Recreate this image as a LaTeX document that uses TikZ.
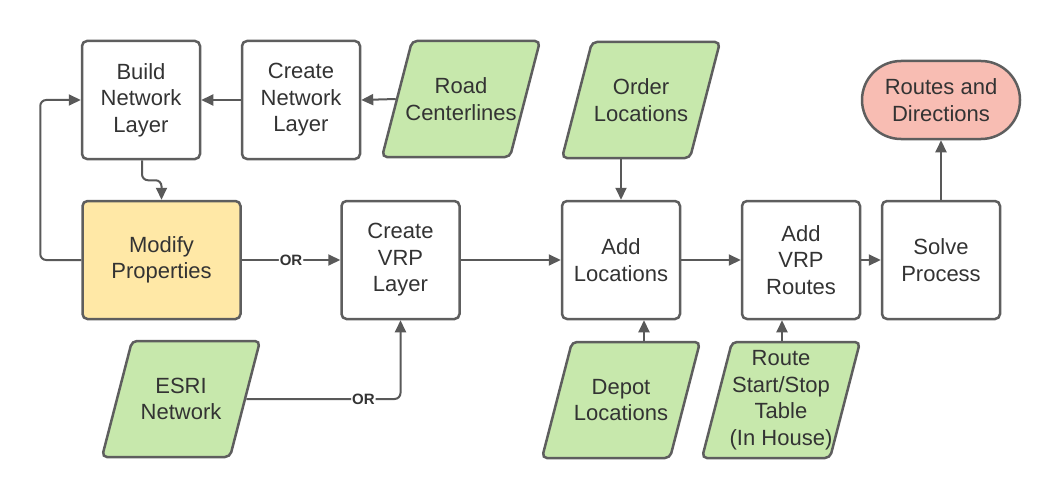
\documentclass[tikz,border=0pt]{standalone}
\usepackage{fontspec}
\setmainfont{Liberation Sans}
\usetikzlibrary{arrows.meta,calc}
\definecolor{edgec}{HTML}{5E5E5E}
\definecolor{linec}{HTML}{595959}
\definecolor{txtc}{HTML}{333333}
\definecolor{greenf}{HTML}{C7E8AC}
\definecolor{yellowf}{HTML}{FFE8A6}
\definecolor{redf}{HTML}{F8BDB3}
\tikzset{
  boxn/.style={draw=edgec, line width=2.5pt, rounded corners=5pt, fill=white,
    minimum width=118pt, minimum height=118pt, align=center, text=txtc,
    font=\fontsize{22}{26.5}\selectfont, inner sep=0pt},
  paral/.style={draw=edgec, line width=2.5pt, rounded corners=5pt, fill=greenf},
  datan/.style={minimum width=128pt, minimum height=116pt, outer sep=1.25pt,
    align=center, text=txtc, font=\fontsize{22}{26.5}\selectfont, inner sep=0pt},
  termn/.style={draw=edgec, line width=2.5pt, rounded corners=39pt, fill=redf,
    minimum width=158pt, minimum height=78pt, align=center, text=txtc,
    font=\fontsize{22}{26.5}\selectfont, inner sep=0pt},
  conn/.style={draw=linec, line width=2pt, rounded corners=6pt,
    -{Triangle[length=12pt,width=11pt]}},
  orlab/.style={fill=white, text=txtc, font=\fontsize{15}{17}\selectfont\bfseries, inner sep=1pt}
}
\newcommand{\datanode}[3]{%
  \draw[paral] ($(#2)+(-49,-58)$) -- ($(#2)+(79,-58)$) -- ($(#2)+(49,58)$) -- ($(#2)+(-79,58)$) -- cycle;
  \node[datan] (#1) at (#2) {#3};}
\begin{document}
\begin{tikzpicture}[x=1pt,y=-1pt]
\useasboundingbox (0,0) rectangle (1062,500);
\node[boxn] (build) at (141,100) {Build\\Network\\Layer};
\node[boxn] (cnet) at (301,100) {Create\\Network\\Layer};
\datanode{road}{461,99}{Road\\Centerlines}
\datanode{order}{641,100}{Order\\Locations}
\node[termn] (routes) at (941,100) {Routes and\\Directions};
\node[boxn, fill=yellowf, minimum width=158pt] (modify) at (161.5,260) {Modify\\Properties};
\node[boxn] (vrp) at (400.5,260) {Create\\VRP\\Layer};
\node[boxn] (addloc) at (621,260) {Add\\Locations};
\node[boxn] (addvrp) at (801,260) {Add\\VRP\\Routes};
\node[boxn] (solve) at (941,260) {Solve\\Process};
\datanode{esri}{181,399}{ESRI\\Network}
\datanode{depot}{621,400}{Depot\\Locations}
\datanode{rst}{781,400}{Route\\Start/Stop\\Table\\(In House)}

\draw[conn] (road.west) -- (cnet.east);
\draw[conn] (cnet.west) -- (build.east);
\draw[conn] ([xshift=1pt]build.south) -- ++(0,20) -| (modify.north);
\draw[conn] (modify.west) -- ++(-41,0) |- (build.west);
\draw[conn] (modify.east) -- node[orlab, pos=0.5] {OR} (vrp.west);
\draw[conn] (esri.east) -| node[orlab, pos=0.38] {OR} (vrp.south);
\draw[conn] (vrp.east) -- (addloc.west);
\draw[conn] (addloc.east) -- (addvrp.west);
\draw[conn] (addvrp.east) -- (solve.west);
\draw[conn] (solve.north) -- (routes.south);
\draw[conn] (addloc.north |- order.south) -- (addloc.north);
\draw[conn] ([xshift=23pt]addloc.south |- depot.north) -- ([xshift=23pt]addloc.south);
\draw[conn] ([xshift=1pt]rst.north) -- ([xshift=1pt]rst.north |- addvrp.south);
\end{tikzpicture}
\end{document}
